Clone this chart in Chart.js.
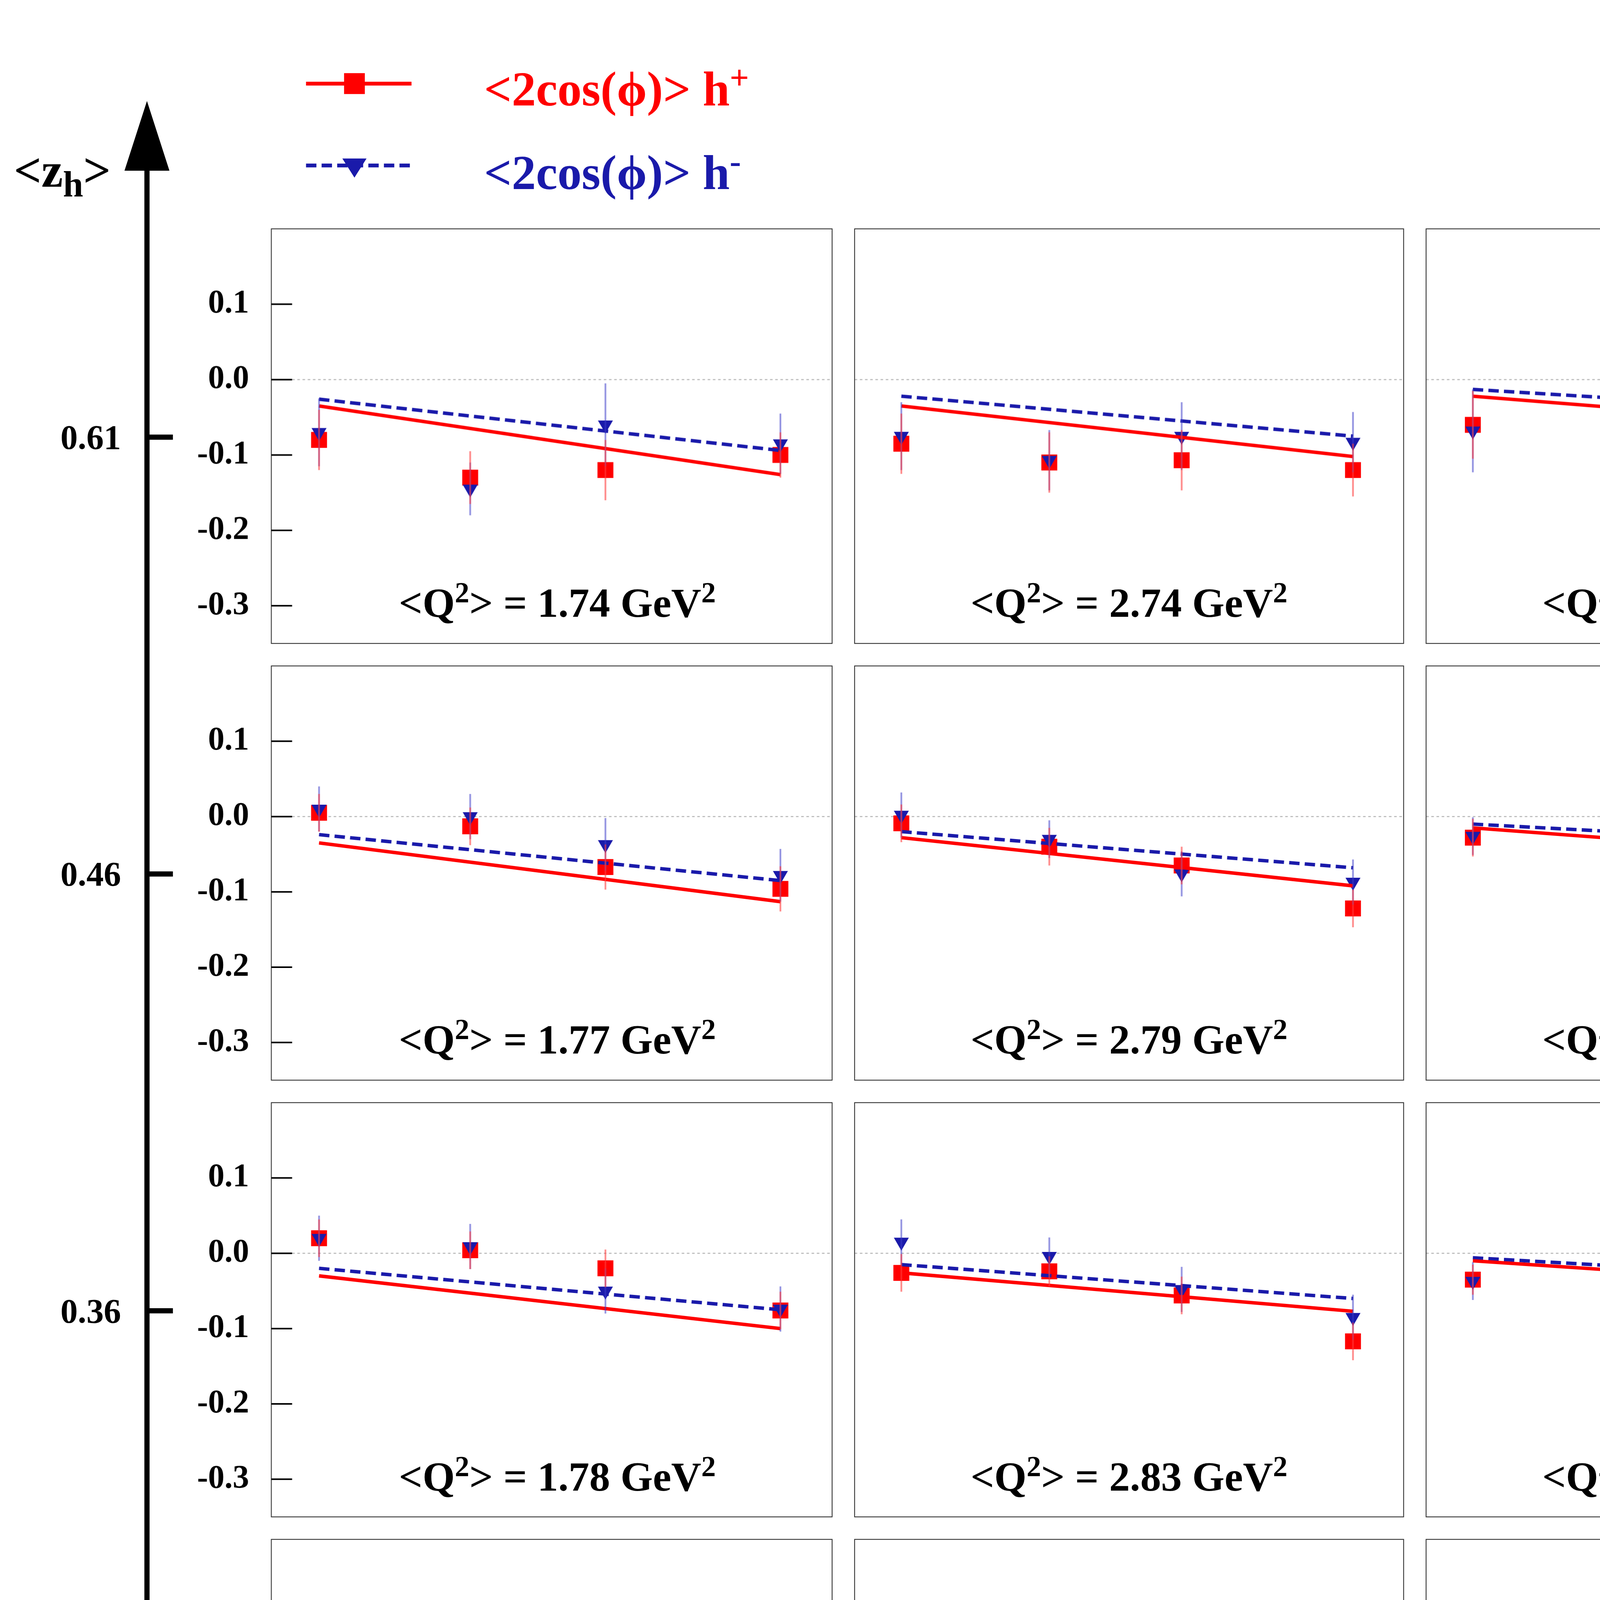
<!DOCTYPE html>
<html>
<head>
<meta charset="utf-8">
<script src="https://cdn.jsdelivr.net/npm/chart.js@4.4.1/dist/chart.umd.min.js"></script>
<style>
  html, body { margin: 0; padding: 0; background: #fff; }
  #root { position: relative; width: 5400px; height: 7000px; overflow: hidden; font-family: "Liberation Serif", serif; font-weight: bold; }
  canvas { position: absolute; }
  .txt { position: absolute; white-space: nowrap; line-height: 1; }
</style>
</head>
<body>
<div id="root"></div>
<script>
// ---- data ----
const xBLabels = ['0.02', '0.03', '0.06'];
const zhLabels = ['0.61', '0.46', '0.36', '0.28', '0.22'];
const q2Labels = [
  '1.74', '2.74', '6.61',
  '1.77', '2.79', '6.71',
  '1.78', '2.83', '6.84',
  '1.80', '2.85', '6.96',
  '1.82', '2.92', '7.06'
];
const ptX = [0.2, 0.39, 0.56, 0.78];
const fitX = [0.2, 0.78];
const xTicks = [0.3, 0.5, 0.7];
const yTicks = [-0.3, -0.2, -0.1, 0.0, 0.1];

const redVals = [
  [-0.080, -0.130, -0.120, -0.100], [-0.085, -0.110, -0.107, -0.120], [-0.060, -0.077, -0.115, -0.137],
  [0.005, -0.013, -0.067, -0.096], [-0.009, -0.040, -0.065, -0.122], [-0.028, -0.040, -0.063, -0.120],
  [0.020, 0.004, -0.020, -0.076], [-0.026, -0.024, -0.056, -0.117], [-0.035, -0.058, -0.085, -0.098],
  [-0.010, -0.013, -0.054, -0.074], [-0.007, -0.033, -0.052, -0.076], [-0.037, -0.040, -0.052, -0.106],
  [-0.010, -0.020, -0.065, -0.037], [-0.026, -0.037, -0.052, -0.078], [-0.010, -0.037, -0.058, -0.063]
];
const blueVals = [
  [-0.070, -0.145, -0.060, -0.085], [-0.075, -0.107, -0.075, -0.083], [-0.068, -0.072, -0.048, -0.058],
  [0.010, 0.000, -0.037, -0.078], [0.002, -0.030, -0.076, -0.087], [-0.026, -0.024, -0.072, -0.076],
  [0.020, 0.009, -0.050, -0.074], [0.015, -0.004, -0.048, -0.085], [-0.037, -0.020, -0.048, -0.090],
  [0.002, -0.009, -0.035, -0.052], [-0.013, -0.022, -0.035, -0.050], [-0.030, -0.035, -0.052, -0.058],
  [-0.010, 0.004, -0.045, -0.060], [-0.015, -0.026, -0.045, -0.048], [-0.009, -0.030, -0.045, -0.060]
];
const redErr = [
  [0.040, 0.035, 0.040, 0.030], [0.040, 0.040, 0.040, 0.035], [0.045, 0.040, 0.045, 0.035],
  [0.025, 0.025, 0.030, 0.030], [0.025, 0.025, 0.025, 0.025], [0.025, 0.025, 0.025, 0.025],
  [0.025, 0.025, 0.025, 0.025], [0.025, 0.020, 0.025, 0.025], [0.020, 0.020, 0.020, 0.025],
  [0.020, 0.020, 0.020, 0.025], [0.020, 0.020, 0.020, 0.025], [0.020, 0.020, 0.020, 0.025],
  [0.020, 0.020, 0.025, 0.025], [0.020, 0.020, 0.020, 0.025], [0.020, 0.020, 0.025, 0.025]
];
const blueErr = [
  [0.045, 0.035, 0.055, 0.040], [0.045, 0.040, 0.045, 0.040], [0.055, 0.045, 0.060, 0.050],
  [0.030, 0.030, 0.035, 0.035], [0.030, 0.025, 0.030, 0.030], [0.025, 0.030, 0.030, 0.030],
  [0.030, 0.030, 0.030, 0.030], [0.030, 0.025, 0.030, 0.030], [0.025, 0.025, 0.025, 0.030],
  [0.025, 0.020, 0.025, 0.025], [0.020, 0.020, 0.025, 0.025], [0.020, 0.020, 0.025, 0.025],
  [0.025, 0.025, 0.025, 0.025], [0.025, 0.020, 0.025, 0.025], [0.025, 0.020, 0.025, 0.025]
];
const redFit = [
  [-0.035, -0.126], [-0.035, -0.102], [-0.022, -0.070],
  [-0.035, -0.113], [-0.028, -0.092], [-0.015, -0.060],
  [-0.030, -0.100], [-0.026, -0.077], [-0.010, -0.050],
  [-0.022, -0.085], [-0.020, -0.070], [-0.008, -0.040],
  [-0.018, -0.070], [-0.015, -0.052], [-0.007, -0.035]
];
const blueFit = [
  [-0.026, -0.094], [-0.022, -0.075], [-0.013, -0.050],
  [-0.024, -0.085], [-0.020, -0.068], [-0.010, -0.042],
  [-0.020, -0.075], [-0.015, -0.060], [-0.006, -0.040],
  [-0.017, -0.065], [-0.012, -0.050], [-0.004, -0.030],
  [-0.013, -0.055], [-0.010, -0.040], [-0.003, -0.025]
];

// ---- layout (reference units, scaled to pixels) ----
const SX = 5400 / 1220, SY = 7000 / 1570, S = 4.43;
const GX0 = 157, GX1 = 1149, GY0 = 125, GY1 = 1379;
const PW = (GX1 - GX0) / 3, PH = (GY1 - GY0) / 5;
const LEFT_AX = 62, BOT_AX = 45;
const RED = '#ff0000', BLUE = '#1a1aaa';
const root = document.getElementById('root');

function addText(html, x, y, size, color, align) {
  const d = document.createElement('div');
  d.className = 'txt';
  d.innerHTML = html;
  d.style.fontSize = (size * S) + 'px';
  d.style.color = color || '#000';
  d.style.left = (x * SX) + 'px';
  d.style.top = (y * SY) + 'px';
  d.style.transform = align === 'center' ? 'translate(-50%,-50%)' : (align === 'right' ? 'translate(-100%,-50%)' : 'translate(0,-50%)');
  root.appendChild(d);
}

const errorBars = {
  id: 'errorBars',
  afterDatasetsDraw(chart) {
    const { ctx, scales: { x, y } } = chart;
    ctx.save();
    chart.data.datasets.forEach(ds => {
      if (!ds.errors) return;
      ctx.strokeStyle = ds.errColor;
      ctx.lineWidth = 1.0 * S;
      ds.data.forEach((p, i) => {
        const px = x.getPixelForValue(p.x);
        ctx.beginPath();
        ctx.moveTo(px, y.getPixelForValue(p.y - ds.errors[i]));
        ctx.lineTo(px, y.getPixelForValue(p.y + ds.errors[i]));
        ctx.stroke();
      });
    });
    ctx.restore();
  }
};

const frame = {
  id: 'frame',
  beforeDatasetsDraw(chart, args, opts) {
    const { ctx, chartArea: a, scales: { x, y } } = chart;
    ctx.save();
    // dotted zero line
    ctx.strokeStyle = '#bbbbbb';
    ctx.lineWidth = 0.6 * S;
    ctx.setLineDash([1.5 * S, 1.5 * S]);
    const y0 = y.getPixelForValue(0);
    ctx.beginPath(); ctx.moveTo(a.left, y0); ctx.lineTo(a.right, y0); ctx.stroke();
    ctx.setLineDash([]);
    ctx.strokeStyle = '#333';
    ctx.lineWidth = 0.5 * S;
    ctx.strokeRect(a.left, a.top, a.right - a.left, a.bottom - a.top);
    ctx.strokeStyle = '#000';
    ctx.lineWidth = 0.9 * S;
    const tl = 12 * S;
    if (opts.left) {
      yTicks.forEach(v => {
        const py = y.getPixelForValue(v);
        ctx.beginPath(); ctx.moveTo(a.left, py); ctx.lineTo(a.left + tl, py); ctx.stroke();
      });
    }
    if (opts.bottom) {
      ctx.lineWidth = 0.9 * S;
      ctx.beginPath(); ctx.moveTo(a.left, a.bottom); ctx.lineTo(a.right, a.bottom); ctx.stroke();
      xTicks.forEach(v => {
        const px = x.getPixelForValue(v);
        ctx.beginPath(); ctx.moveTo(px, a.bottom); ctx.lineTo(px, a.bottom - tl); ctx.stroke();
      });
    }
    ctx.restore();
  }
};

function pts(xs, ys) { return xs.map((v, i) => ({ x: v, y: ys[i] })); }
function noPad(s) { s.paddingTop = 0; s.paddingBottom = 0; s.paddingLeft = 0; s.paddingRight = 0; }

for (let r = 0; r < 5; r++) {
  for (let c = 0; c < 3; c++) {
    const k = r * 3 + c;
    const left = c === 0, bottom = r === 4;
    const px0 = GX0 + c * PW - (left ? LEFT_AX : 0);
    const py0 = GY0 + r * PH;
    const w = PW + (left ? LEFT_AX : 0);
    const h = PH + (bottom ? BOT_AX : 0);
    const cv = document.createElement('canvas');
    cv.style.left = (px0 * SX) + 'px';
    cv.style.top = (py0 * SY) + 'px';
    cv.style.width = (w * SX) + 'px';
    cv.style.height = (h * SY) + 'px';
    cv.width = Math.round(w * SX);
    cv.height = Math.round(h * SY);
    root.appendChild(cv);

    new Chart(cv, {
      type: 'scatter',
      data: {
        datasets: [
          { data: pts(fitX, redFit[k]), showLine: true, borderColor: RED, borderWidth: 2 * S, pointRadius: 0 },
          { data: pts(fitX, blueFit[k]), showLine: true, borderColor: BLUE, borderWidth: 2 * S, borderDash: [6 * S, 3 * S], pointRadius: 0 },
          { data: pts(ptX, blueVals[k]), errors: blueErr[k], errColor: 'rgba(60,60,200,0.55)', pointStyle: 'triangle', rotation: 180, pointRadius: 5 * S, backgroundColor: BLUE, borderWidth: 0 },
          { data: pts(ptX, redVals[k]), errors: redErr[k], errColor: 'rgba(255,60,60,0.6)', pointStyle: 'rect', pointRadius: 6.5 * S, backgroundColor: RED, borderWidth: 0 }
        ]
      },
      options: {
        responsive: false,
        animation: false,
        devicePixelRatio: 1,
        clip: false,
        layout: { padding: 0 },
        plugins: { legend: { display: false }, tooltip: { enabled: false }, frame: { left, bottom } },
        scales: {
          x: {
            type: 'linear', min: 0.14, max: 0.845,
            afterBuildTicks: s => { s.ticks = xTicks.map(v => ({ value: v })); },
            afterFit: s => { s.height = bottom ? BOT_AX * SY : 0; noPad(s); },
            grid: { display: false },
            border: { display: false },
            ticks: { display: bottom, padding: 12 * S, maxRotation: 0, color: '#000', font: { family: 'Liberation Serif', weight: 'bold', size: 19 * S }, callback: v => v.toFixed(1) }
          },
          y: {
            type: 'linear', min: -0.35, max: 0.2,
            afterBuildTicks: s => { s.ticks = yTicks.map(v => ({ value: v })); },
            afterFit: s => { s.width = left ? LEFT_AX * SX : 0; noPad(s); },
            grid: { display: false },
            border: { display: false },
            ticks: { display: left, padding: 11 * S, color: '#000', font: { family: 'Liberation Serif', weight: 'bold', size: 19 * S }, callback: v => v.toFixed(1) }
          }
        }
      },
      plugins: [frame, errorBars]
    });

    addText('&lt;Q<sup style="font-size:0.7em">2</sup>&gt; = ' + q2Labels[k] + ' GeV<sup style="font-size:0.7em">2</sup>',
      GX0 + c * PW + PW / 2, py0 + 220, 24, '#000', 'center');
  }
}

// ---- outer axes ----
const svgNS = 'http://www.w3.org/2000/svg';
const svg = document.createElementNS(svgNS, 'svg');
svg.setAttribute('width', 5400); svg.setAttribute('height', 7000);
svg.style.position = 'absolute'; svg.style.left = '0'; svg.style.top = '0';
root.appendChild(svg);
function line(x1, y1, x2, y2, wd, color, dash) {
  const l = document.createElementNS(svgNS, 'line');
  l.setAttribute('x1', x1 * SX); l.setAttribute('y1', y1 * SY);
  l.setAttribute('x2', x2 * SX); l.setAttribute('y2', y2 * SY);
  l.setAttribute('stroke', color || '#000'); l.setAttribute('stroke-width', wd * S);
  if (dash) l.setAttribute('stroke-dasharray', dash.map(d => d * S).join(' '));
  svg.appendChild(l);
}
function poly(ptsArr, color) {
  const p = document.createElementNS(svgNS, 'polygon');
  p.setAttribute('points', ptsArr.map(q => (q[0] * SX) + ',' + (q[1] * SY)).join(' '));
  p.setAttribute('fill', color || '#000');
  svg.appendChild(p);
}
line(85, 1490, 85, 95, 3);
poly([[85, 58], [72, 98], [98, 98]]);
line(85, 1490, 1150, 1490, 3);
poly([[1185, 1490], [1145, 1477], [1145, 1503]]);

const xBTickPos = [322, 653, 984];
xBTickPos.forEach((x, i) => {
  line(x, 1490, x, 1473, 3);
  addText(xBLabels[i], x - 8, 1537, 20, '#000', 'center');
});
zhLabels.forEach((lab, i) => {
  const y = GY0 + i * PH + 126;
  line(85, y, 100, y, 3);
  addText(lab, 70, y, 20, '#000', 'right');
});
addText('&lt;z<sub style="font-size:0.75em">h</sub>&gt;', 8, 100, 28, '#000', 'left');
addText('&lt;x<sub style="font-size:0.75em">B</sub>&gt;', 1120, 1558, 28, '#000', 'left');
addText('P<sub style="font-size:0.7em">T</sub> (GeV)', 638, 1458, 22, '#000', 'center');

// ---- legend ----
line(177, 48, 238, 48, 2.2, RED);
poly([[199, 42], [211, 42], [211, 54], [199, 54]], RED);
addText('&lt;2cos(ϕ)&gt; h<sup style="font-size:0.7em">+</sup>', 280, 50, 28, RED, 'left');
line(177, 95, 238, 95, 2.2, BLUE, [6, 3]);
poly([[198, 91], [212, 91], [205, 102]], BLUE);
addText('&lt;2cos(ϕ)&gt; h<sup style="font-size:0.7em">-</sup>', 280, 98, 28, BLUE, 'left');
</script>
</body>
</html>
